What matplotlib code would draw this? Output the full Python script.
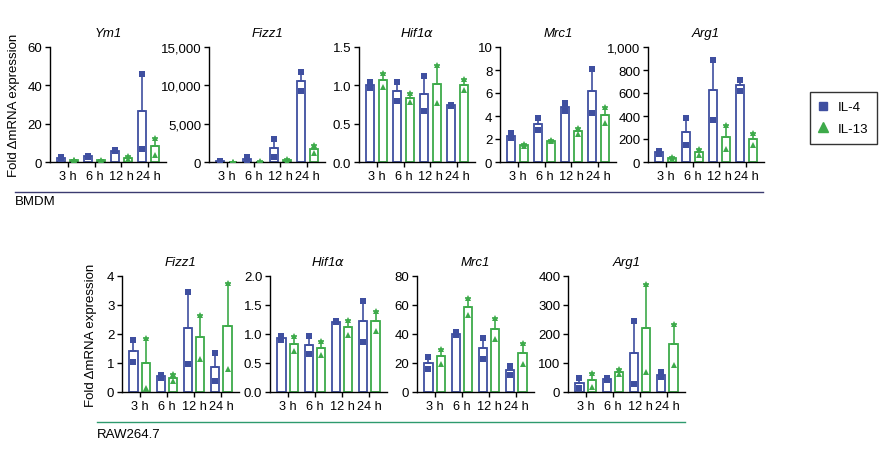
import numpy as np
import matplotlib
matplotlib.use("Agg")
import matplotlib.pyplot as plt
from matplotlib.ticker import FuncFormatter
from matplotlib.lines import Line2D

plt.rcParams['font.family'] = ['Liberation Sans', 'DejaVu Sans']

# ---------------- data (two replicates per bar) ----------------
timepoints = ["3 h", "6 h", "12 h", "24 h"]
treatments = ["IL-4", "IL-13"]

# BMDM
bmdm_ym1_il4 = [[2.5, 1.5], [3.3, 2.5], [6.5, 5.5], [46, 7]]
bmdm_ym1_il13 = [[1.2, 0.8], [1.3, 0.7], [3.0, 1.5], [12.5, 3.8]]
bmdm_fizz1_il4 = [[150, 50], [600, 100], [3000, 600], [11800, 9300]]
bmdm_fizz1_il13 = [[50, 10], [100, 20], [350, 100], [2200, 1200]]
bmdm_hif1a_il4 = [[1.05, 0.96], [1.04, 0.80], [1.12, 0.66], [0.75, 0.73]]
bmdm_hif1a_il13 = [[1.16, 0.98], [0.90, 0.78], [1.26, 0.77], [1.08, 0.94]]
bmdm_mrc1_il4 = [[2.5, 2.1], [3.85, 2.8], [5.1, 4.4], [8.1, 4.3]]
bmdm_mrc1_il13 = [[1.6, 1.4], [1.9, 1.8], [3.0, 2.4], [4.8, 3.4]]
bmdm_arg1_il4 = [[100, 70], [385, 145], [885, 365], [715, 620]]
bmdm_arg1_il13 = [[45, 25], [110, 60], [320, 115], [255, 150]]

# RAW264.7
raw_fizz1_il4 = [[1.8, 1.05], [0.6, 0.5], [3.45, 0.97], [1.35, 0.37]]
raw_fizz1_il13 = [[1.85, 0.15], [0.62, 0.38], [2.65, 1.15], [3.75, 0.8]]
raw_hif1a_il4 = [[0.97, 0.90], [0.96, 0.65], [1.22, 1.21], [1.57, 0.87]]
raw_hif1a_il13 = [[0.97, 0.70], [0.88, 0.64], [1.25, 0.99], [1.39, 1.06]]
raw_mrc1_il4 = [[24, 16], [41.5, 39], [37.5, 23], [18, 12]]
raw_mrc1_il13 = [[30, 19], [64.5, 53], [51, 36.5], [34, 19.5]]
raw_arg1_il4 = [[48, 15], [48, 41], [244, 28], [68, 52]]
raw_arg1_il13 = [[66, 16], [78, 62], [372, 68], [235, 93]]

top_titles = ["Ym1", "Fizz1", r"Hif1$\alpha$", "Mrc1", "Arg1"]
top_ymax = [60, 15000, 1.5, 10, 1000]
top_yticks = [[0, 20, 40, 60], [0, 5000, 10000, 15000], [0.0, 0.5, 1.0, 1.5],
              [0, 2, 4, 6, 8, 10], [0, 200, 400, 600, 800, 1000]]
top_data = [(bmdm_ym1_il4, bmdm_ym1_il13), (bmdm_fizz1_il4, bmdm_fizz1_il13),
            (bmdm_hif1a_il4, bmdm_hif1a_il13), (bmdm_mrc1_il4, bmdm_mrc1_il13),
            (bmdm_arg1_il4, bmdm_arg1_il13)]

bot_titles = ["Fizz1", r"Hif1$\alpha$", "Mrc1", "Arg1"]
bot_ymax = [4, 2.0, 80, 400]
bot_yticks = [[0, 1, 2, 3, 4], [0.0, 0.5, 1.0, 1.5, 2.0], [0, 20, 40, 60, 80],
              [0, 100, 200, 300, 400]]
bot_data = [(raw_fizz1_il4, raw_fizz1_il13), (raw_hif1a_il4, raw_hif1a_il13),
            (raw_mrc1_il4, raw_mrc1_il13), (raw_arg1_il4, raw_arg1_il13)]

# ---------------- style ----------------
BLUE = "#3F4FA0"
GREEN = "#3DAA4A"
FS = 9.5
TFS = 9.2
W, H = 881, 452
fig = plt.figure(figsize=(W / 100, H / 100), dpi=100)


def px_axes(x0, y_top, w, h):
    return fig.add_axes([x0 / W, 1 - (y_top + h) / H, w / W, h / H])


def draw_panel(ax, data_pair, title, ymax, yticks):
    x = np.arange(len(timepoints))
    off = 0.23
    bw = 0.30
    for k, (reps, col, mk, ms) in enumerate(zip(data_pair, [BLUE, GREEN], ['s', '^'], [4.5, 4.0])):
        arr = np.array(reps, dtype=float)
        mean = arr.mean(axis=1)
        sem = arr.std(axis=1, ddof=1) / np.sqrt(arr.shape[1])
        xs = x + (-off if k == 0 else off)
        ax.bar(xs, mean, width=bw, facecolor="white", edgecolor=col, linewidth=1.3, zorder=2)
        ax.errorbar(xs, mean, yerr=[np.zeros_like(sem), sem], fmt='none', ecolor=col,
                    elinewidth=1.2, capsize=2.5, capthick=1.2, zorder=3)
        for j in range(arr.shape[1]):
            ax.plot(xs, arr[:, j], linestyle='none', marker=mk, color=col,
                    markersize=ms, markeredgewidth=0, zorder=4)
    ax.set_xlim(-0.65, 3.65)
    ax.set_ylim(0, ymax)
    ax.set_yticks(yticks)
    if ymax >= 1000:
        ax.yaxis.set_major_formatter(FuncFormatter(lambda v, p: f"{int(v):,}"))
    elif ymax <= 2:
        ax.yaxis.set_major_formatter(FuncFormatter(lambda v, p: f"{v:.1f}"))
    else:
        ax.yaxis.set_major_formatter(FuncFormatter(lambda v, p: f"{int(v)}"))
    ax.set_xticks(x)
    ax.set_xticklabels(timepoints)
    ax.spines['top'].set_visible(False)
    ax.spines['right'].set_visible(False)
    for s in ['left', 'bottom']:
        ax.spines[s].set_linewidth(1.0)
    ax.tick_params(axis='both', direction='out', length=3.5, width=1.0, labelsize=FS, pad=2)
    ax.tick_params(axis='x', labelsize=TFS)
    ax.set_title(title, fontsize=FS, style='italic', pad=8)
    ax.patch.set_alpha(0)


# top row
top_lefts = [50, 209, 359, 500, 648]
for i in range(5):
    ax = px_axes(top_lefts[i], 48, 116, 115)
    draw_panel(ax, top_data[i], top_titles[i], top_ymax[i], top_yticks[i])
    if i == 0:
        ax.set_ylabel("Fold \u0394mRNA expression", fontsize=FS)
        ax.yaxis.set_label_coords(-0.26, 0.5)

# bottom row
bot_lefts = [122, 270, 417, 568]
for i in range(4):
    ax = px_axes(bot_lefts[i], 277, 117, 116)
    draw_panel(ax, bot_data[i], bot_titles[i], bot_ymax[i], bot_yticks[i])
    if i == 0:
        ax.set_ylabel("Fold \u0394mRNA expression", fontsize=FS)
        ax.yaxis.set_label_coords(-0.21, 0.5)

# separators and group labels
fig.add_artist(Line2D([15 / W, 763 / W], [1 - 193 / H, 1 - 193 / H], color="#3B3B70", linewidth=1.0))
fig.text(15 / W, 1 - 202 / H, "BMDM", fontsize=FS, va='center', ha='left')
fig.add_artist(Line2D([97 / W, 685 / W], [1 - 423 / H, 1 - 423 / H], color="#2E9A6E", linewidth=1.0))
fig.text(97 / W, 1 - 435 / H, "RAW264.7", fontsize=FS, va='center', ha='left')

# legend
handles = [Line2D([], [], linestyle='none', marker='s', color=BLUE, markersize=6),
           Line2D([], [], linestyle='none', marker='^', color=GREEN, markersize=7)]
leg = fig.legend(handles, treatments, loc='upper left', bbox_to_anchor=(810 / W, 1 - 93 / H),
                 frameon=True, fancybox=False, edgecolor='black', fontsize=FS,
                 handlelength=0.5, handletextpad=0.9, borderpad=0.7, labelspacing=0.7,
                 borderaxespad=0)
leg.get_frame().set_linewidth(1.0)

fig.savefig("out.png", dpi=100)
